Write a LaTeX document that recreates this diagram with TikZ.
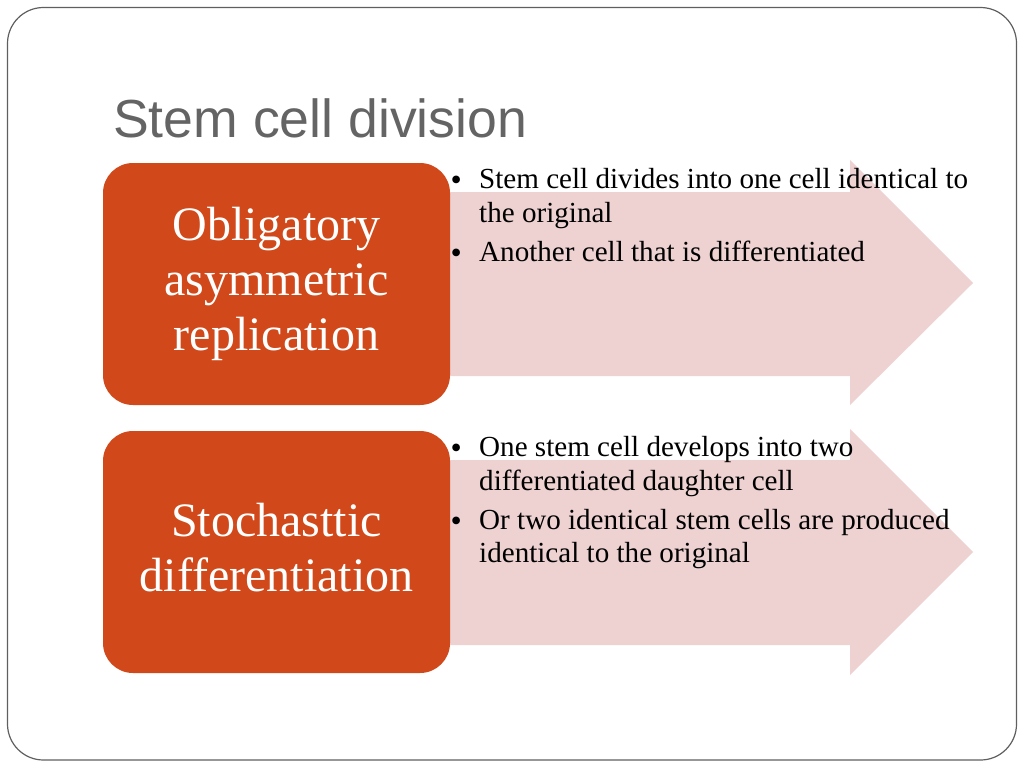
\documentclass[tikz,border=0pt]{standalone}
\usepackage{fontspec}
\setmainfont{Liberation Serif}
\newfontfamily\titlefont{Liberation Sans}
\definecolor{orangec}{RGB}{209,73,26}
\definecolor{pinkc}{RGB}{238,209,209}
\definecolor{framec}{RGB}{95,95,95}
\definecolor{titlec}{RGB}{100,100,100}
\begin{document}
\begin{tikzpicture}[x=1pt,y=-1pt,
  orangebox/.style={fill=orangec, rounded corners=30pt, draw=none, minimum width=347pt, minimum height=242pt, inner sep=0pt},
  boxtext/.style={font=\fontsize{48}{55}\selectfont, text=white, align=center, inner sep=0pt},
  arrowfill/.style={fill=pinkc},
  btext/.style={font=\fontsize{29.1}{34}\selectfont, anchor=base west, inner sep=0pt, text=black},
  bdot/.style={font=\fontsize{32}{34}\selectfont, anchor=base west, inner sep=0pt, text=black}]
\useasboundingbox (0,0) rectangle (1024,768);
\draw[framec, line width=1.2pt, rounded corners=36pt] (7.5,7.5) rectangle (1016.5,760);
\node[font=\titlefont\fontsize{53.6}{60}\selectfont, text=titlec, anchor=base west, inner sep=0pt] (title) at (113,137) {Stem cell division};
% arrows
\fill[arrowfill] (440,192) -- (850,192) -- (850,160) -- (973,283) -- (850,405) -- (850,376) -- (440,376) -- cycle;
\fill[arrowfill] (440,460) -- (850,460) -- (850,429) -- (973,552) -- (850,675) -- (850,645) -- (440,645) -- cycle;
% boxes
\node[orangebox] (box1) at (276.5,284) {};
\node[orangebox] (box2) at (276.5,552) {};
\node[boxtext] (t1) at (box1.center) {Obligatory\\asymmetric\\replication};
\node[boxtext, yshift=4pt] (t2) at (box2.center) {Stochasttic\\differentiation};
% bullets top
\node[bdot] (d1) at (450.5,190) {•};
\node[btext] (l1) at (479,188) {Stem cell divides into one cell identical to};
\node[btext] (l2) at (479,222) {the original};
\node[bdot] (d2) at (450.5,263) {•};
\node[btext] (l3) at (479,261) {Another cell that is differentiated};
% bullets bottom
\node[bdot] (d3) at (450.5,458) {•};
\node[btext] (l4) at (479,456) {One stem cell develops into two};
\node[btext] (l5) at (479,490) {differentiated daughter cell};
\node[bdot] (d4) at (450.5,531) {•};
\node[btext] (l6) at (479,529) {Or two identical stem cells are produced};
\node[btext] (l7) at (479,562) {identical to the original};
\end{tikzpicture}
\end{document}
